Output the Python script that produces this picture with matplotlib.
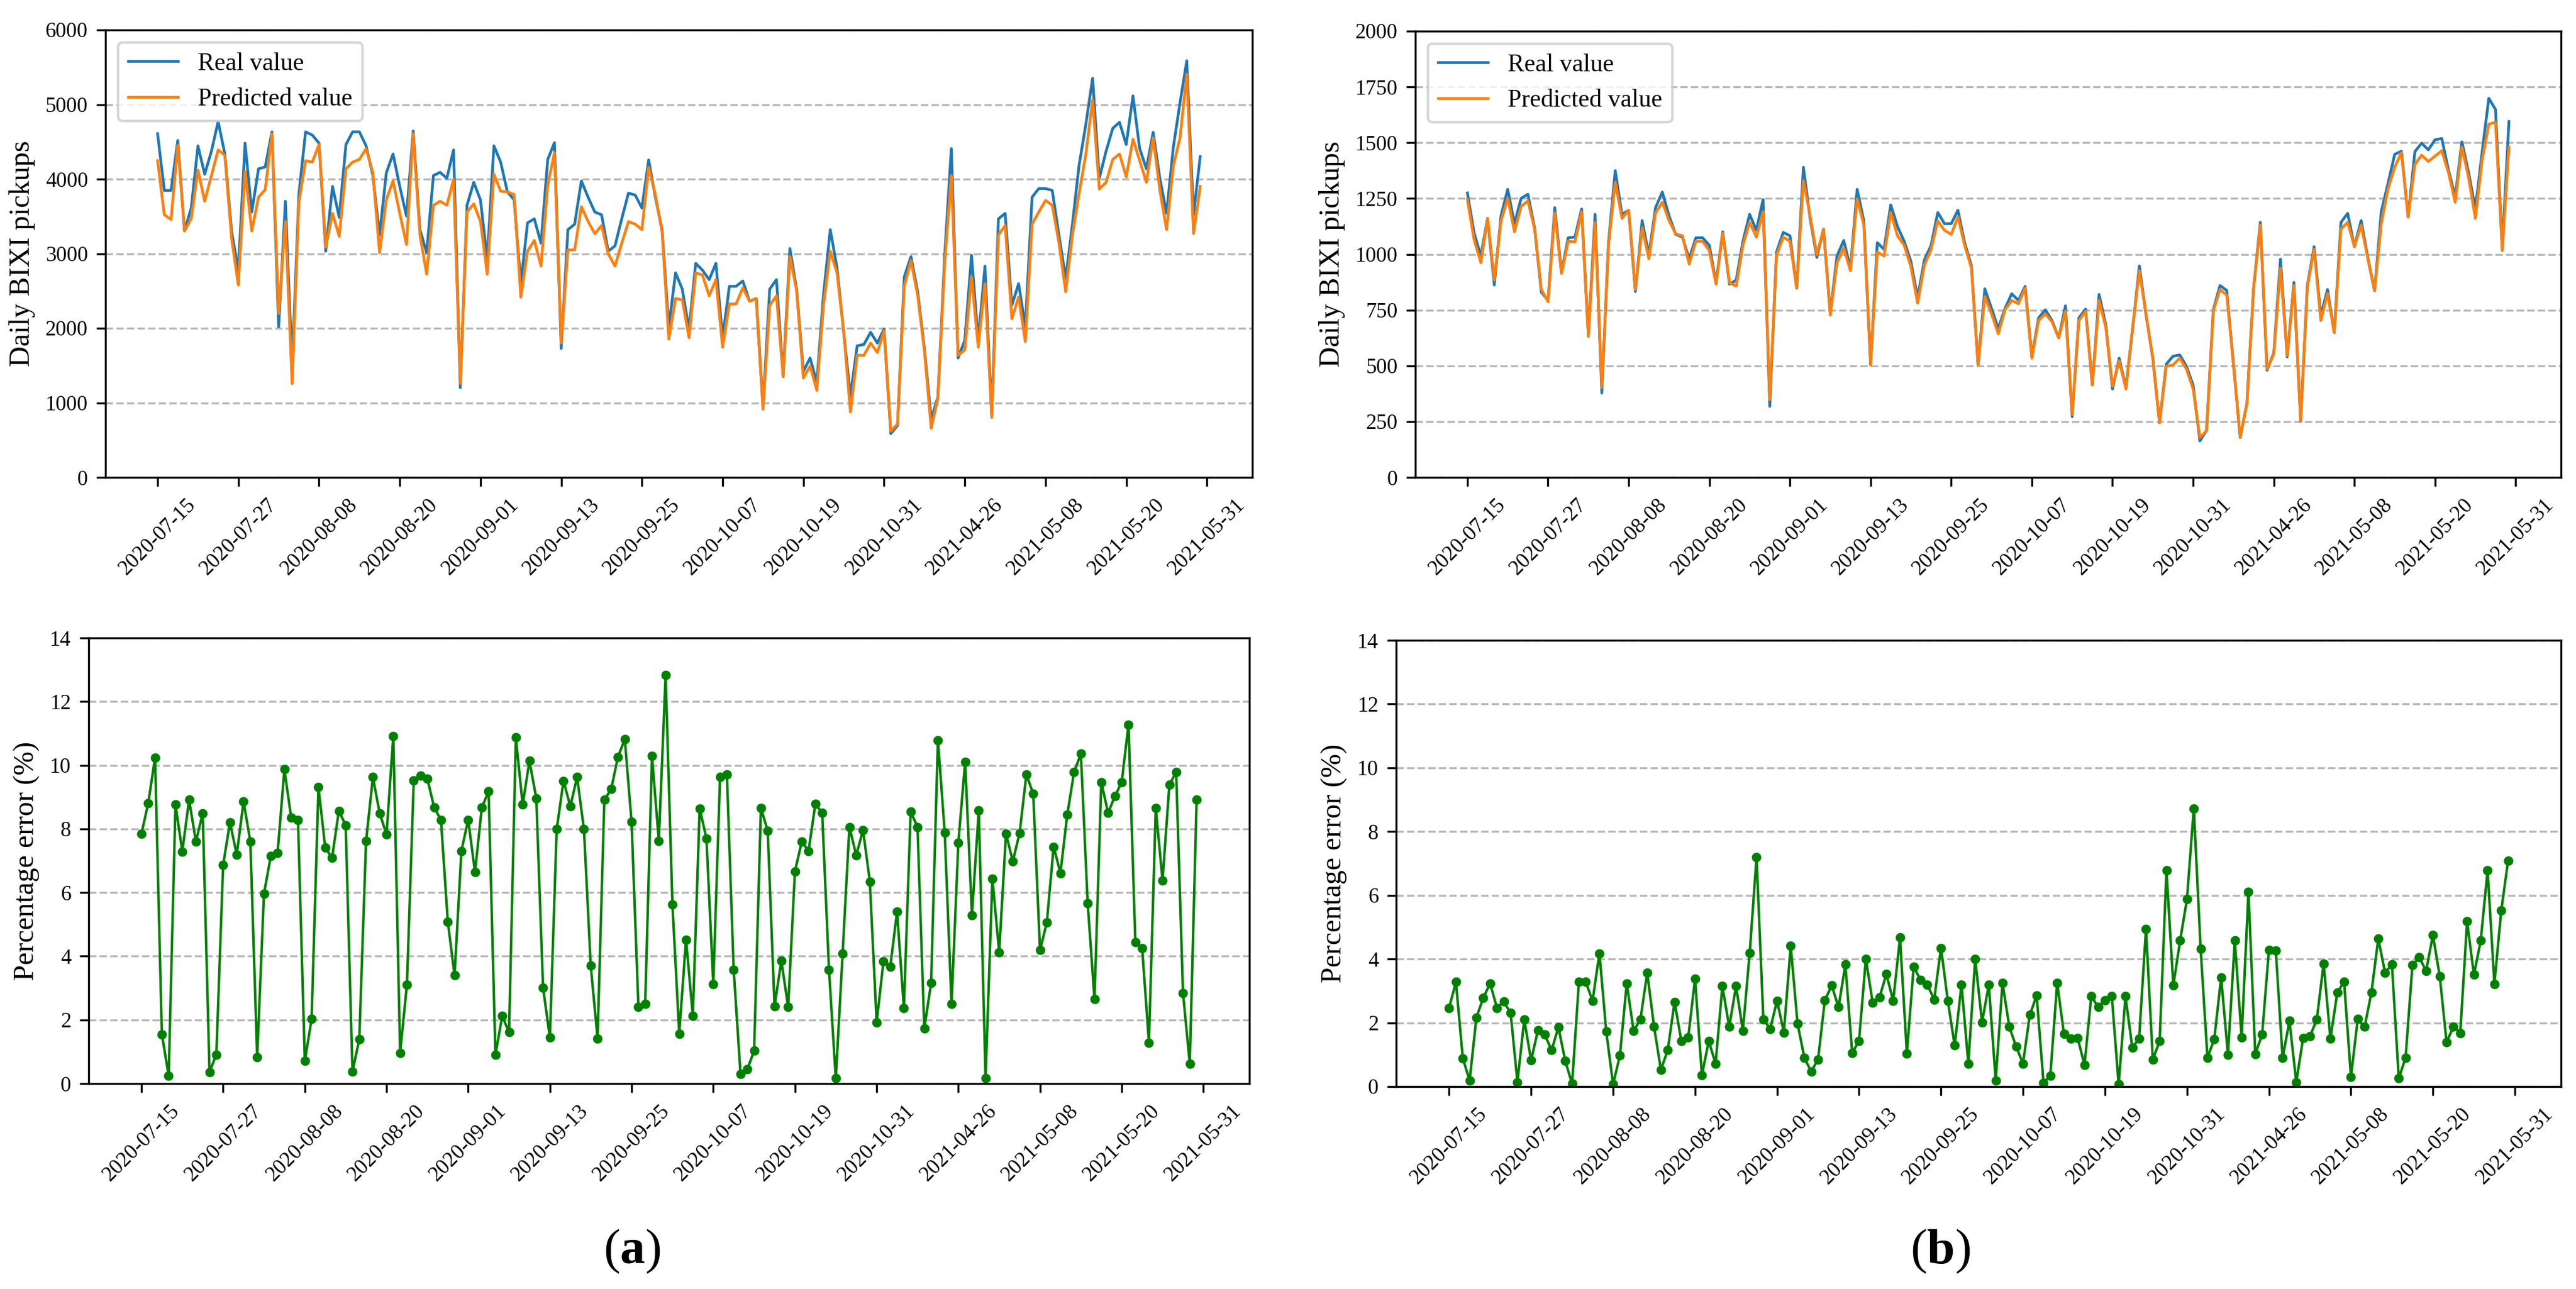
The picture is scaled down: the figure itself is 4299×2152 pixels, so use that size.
import matplotlib
matplotlib.use("Agg")
import matplotlib.pyplot as plt

plt.rcParams['font.family'] = ['Liberation Serif', 'DejaVu Serif']
plt.rcParams['mathtext.fontset'] = 'custom'
plt.rcParams['mathtext.rm'] = 'Liberation Serif'
plt.rcParams['mathtext.bf'] = 'Liberation Serif:bold'

tick_labels = ["2020-07-15", "2020-07-27", "2020-08-08", "2020-08-20", "2020-09-01",
               "2020-09-13", "2020-09-25", "2020-10-07", "2020-10-19", "2020-10-31",
               "2021-04-26", "2021-05-08", "2021-05-20", "2021-05-31"]
tick_pos = [0, 12, 24, 36, 48, 60, 72, 84, 96, 108, 120, 132, 144, 156]

real_a = [4609, 3848, 3848, 4518, 3304, 3612, 4446, 4065, 4373, 4772, 4337, 3300, 2779, 4482, 3558, 4138,
          4163, 4634, 2018, 3703, 1500, 3793, 4634, 4590, 4482, 3033, 3902, 3486, 4464, 4634, 4634, 4446,
          4047, 3250, 4083, 4337, 3902, 3504, 4645, 3322, 3014, 4047, 4091, 4011, 4391, 1203, 3649, 3957,
          3721, 2924, 4446, 4228, 3830, 3721, 2598, 3413, 3467, 3141, 4264, 4489, 1728, 3322, 3395, 3975,
          3757, 3558, 3522, 3033, 3105, 3467, 3812, 3786, 3612, 4257, 3757, 3322, 2018, 2743, 2525, 1982,
          2870, 2779, 2652, 2870, 1873, 2562, 2562, 2634, 2362, 2399, 950, 2525, 2652, 1366, 3069, 2525,
          1420, 1601, 1275, 2453, 3322, 2815, 1946, 1094, 1764, 1783, 1946, 1801, 1989, 587, 696, 2688,
          2960, 2489, 1728, 786, 1076, 2960, 4409, 1601, 1837, 2978, 1837, 2833, 841, 3467, 3540, 2308,
          2598, 2018, 3757, 3873, 3873, 3848, 3250, 2670, 3395, 4192, 4736, 5351, 4011, 4373, 4681, 4761,
          4464, 5116, 4409, 4138, 4627, 4011, 3540, 4428, 5025, 5587, 3522, 4301]

pred_a = [4246, 3522, 3457, 4453, 3304, 3467, 4120, 3703, 4047, 4391, 4319, 3200, 2580, 4101, 3304, 3757,
          3859, 4609, 2199, 3431, 1257, 3685, 4246, 4228, 4464, 3087, 3540, 3232, 4138, 4228, 4264, 4409,
          4083, 3014, 3721, 3975, 3540, 3123, 4609, 3250, 2725, 3649, 3703, 3649, 3993, 1257, 3558, 3667,
          3431, 2725, 4065, 3837, 3830, 3793, 2417, 3033, 3178, 2833, 3920, 4355, 1801, 3051, 3051, 3630,
          3431, 3268, 3377, 2996, 2833, 3141, 3431, 3395, 3322, 4156, 3793, 3286, 1855, 2399, 2380, 1873,
          2743, 2714, 2435, 2652, 1746, 2326, 2326, 2543, 2362, 2399, 913, 2308, 2435, 1348, 2960, 2507,
          1330, 1493, 1167, 2308, 3033, 2743, 1946, 877, 1638, 1638, 1801, 1674, 1964, 623, 714, 2562,
          2906, 2435, 1692, 659, 1058, 2851, 4047, 1638, 1710, 2688, 1746, 2598, 804, 3250, 3377, 2127,
          2417, 1819, 3395, 3558, 3714, 3649, 3141, 2489, 3250, 3812, 4337, 5062, 3866, 3957, 4264, 4337,
          4029, 4536, 4246, 3957, 4554, 3848, 3322, 4174, 4554, 5406, 3268, 3902]

err_a = [7.85, 8.81, 10.23, 1.55, 0.24, 8.76, 7.29, 8.91, 7.60, 8.49, 0.36, 0.91, 6.86, 8.20, 7.19, 8.86,
         7.60, 0.82, 5.96, 7.15, 7.25, 9.87, 8.35, 8.28, 0.71, 2.03, 9.31, 7.41, 7.09, 8.57, 8.11, 0.38,
         1.39, 7.62, 9.63, 8.49, 7.82, 10.92, 0.96, 3.11, 9.52, 9.68, 9.58, 8.67, 8.28, 5.09, 3.40, 7.31,
         8.28, 6.64, 8.67, 9.18, 0.91, 2.12, 1.61, 10.87, 8.76, 10.14, 8.96, 3.01, 1.44, 7.99, 9.51, 8.71,
         9.63, 7.99, 3.71, 1.42, 8.91, 9.25, 10.26, 10.82, 8.23, 2.41, 2.50, 10.29, 7.63, 12.84, 5.62, 1.57,
         4.52, 2.12, 8.64, 7.70, 3.13, 9.63, 9.71, 3.57, 0.31, 0.45, 1.03, 8.65, 7.94, 2.43, 3.86, 2.41,
         6.67, 7.60, 7.31, 8.79, 8.50, 3.57, 0.16, 4.08, 8.06, 7.17, 7.96, 6.35, 1.92, 3.84, 3.67, 5.40,
         2.37, 8.54, 8.06, 1.73, 3.16, 10.79, 7.89, 2.51, 7.56, 10.10, 5.29, 8.59, 0.16, 6.43, 4.13, 7.85,
         6.98, 7.87, 9.71, 9.10, 4.19, 5.06, 7.44, 6.61, 8.45, 9.78, 10.36, 5.67, 2.65, 9.47, 8.50, 9.03,
         9.47, 11.28, 4.44, 4.25, 1.28, 8.65, 6.38, 9.39, 9.78, 2.85, 0.62, 8.91]

real_b = [1275, 1095, 992, 1161, 862, 1173, 1291, 1137, 1251, 1269, 1119, 830, 793, 1209, 920, 1074,
          1077, 1203, 637, 1179, 378, 1052, 1375, 1179, 1197, 833, 1151, 998, 1209, 1279, 1173, 1089,
          1077, 980, 1074, 1074, 1040, 872, 1101, 866, 884, 1058, 1179, 1107, 1245, 318, 1010, 1098,
          1083, 848, 1390, 1161, 986, 1113, 733, 992, 1062, 938, 1291, 1149, 504, 1052, 1022, 1221,
          1125, 1058, 968, 805, 974, 1040, 1187, 1137, 1137, 1197, 1052, 950, 504, 845, 757, 667,
          757, 823, 793, 856, 540, 715, 751, 703, 625, 769, 272, 715, 754, 414, 820, 685,
          396, 534, 402, 667, 948, 727, 534, 245, 507, 543, 549, 498, 414, 163, 211, 751,
          860, 838, 510, 179, 330, 848, 1143, 480, 558, 978, 540, 874, 251, 860, 1034, 727,
          842, 649, 1143, 1183, 1034, 1151, 986, 836, 1191, 1317, 1448, 1462, 1167, 1460, 1498, 1468,
          1513, 1519, 1378, 1257, 1504, 1366, 1203, 1456, 1699, 1649, 1028, 1595]

pred_b = [1245, 1064, 962, 1161, 884, 1149, 1251, 1101, 1215, 1239, 1113, 842, 787, 1185, 914, 1058,
          1055, 1191, 631, 1143, 402, 1040, 1323, 1161, 1197, 842, 1119, 980, 1185, 1233, 1151, 1091,
          1083, 956, 1058, 1058, 1016, 866, 1095, 872, 857, 1040, 1143, 1077, 1191, 348, 995, 1077,
          1058, 848, 1330, 1173, 998, 1113, 727, 962, 1028, 926, 1248, 1131, 504, 1010, 992, 1187,
          1083, 1040, 944, 781, 950, 1022, 1149, 1107, 1089, 1167, 1040, 938, 504, 811, 733, 643,
          751, 793, 778, 848, 534, 703, 733, 697, 625, 745, 281, 703, 745, 414, 793, 673,
          408, 522, 396, 673, 926, 727, 534, 245, 498, 504, 534, 486, 396, 179, 209, 745,
          842, 817, 510, 179, 330, 848, 1131, 486, 552, 938, 546, 860, 251, 854, 1022, 703,
          824, 649, 1113, 1143, 1034, 1131, 980, 836, 1137, 1293, 1390, 1456, 1167, 1402, 1444, 1416,
          1440, 1464, 1366, 1233, 1480, 1342, 1161, 1420, 1583, 1592, 1016, 1480]

err_b = [2.47, 3.28, 0.89, 0.19, 2.17, 2.78, 3.24, 2.47, 2.66, 2.31, 0.14, 2.10, 0.82, 1.76, 1.63, 1.14,
         1.86, 0.80, 0.09, 3.29, 3.28, 2.69, 4.18, 1.73, 0.07, 0.97, 3.24, 1.75, 2.10, 3.57, 1.87, 0.53,
         1.14, 2.65, 1.42, 1.54, 3.39, 0.35, 1.43, 0.72, 3.15, 1.87, 3.15, 1.75, 4.20, 7.20, 2.10, 1.81,
         2.69, 1.70, 4.41, 1.98, 0.90, 0.47, 0.85, 2.71, 3.17, 2.49, 3.83, 1.06, 1.43, 4.01, 2.63, 2.80,
         3.53, 2.69, 4.67, 1.04, 3.76, 3.34, 3.19, 2.73, 4.35, 2.68, 1.29, 3.20, 0.72, 4.01, 2.02, 3.19,
         0.19, 3.25, 1.87, 1.25, 0.72, 2.25, 2.86, 0.12, 0.34, 3.25, 1.65, 1.51, 1.52, 0.68, 2.84, 2.49,
         2.71, 2.84, 0.07, 2.83, 1.22, 1.51, 4.95, 0.85, 1.42, 6.78, 3.17, 4.58, 5.88, 8.72, 4.32, 0.91,
         1.49, 3.42, 1.00, 4.58, 1.54, 6.10, 1.02, 1.63, 4.29, 4.27, 0.90, 2.06, 0.14, 1.52, 1.58, 2.10,
         3.85, 1.50, 2.95, 3.29, 0.30, 2.12, 1.87, 2.95, 4.64, 3.57, 3.83, 0.26, 0.90, 3.81, 4.05, 3.63,
         4.75, 3.46, 1.39, 1.88, 1.68, 5.19, 3.51, 4.58, 6.78, 3.22, 5.52, 7.08]

W, H = 4299, 2152
fig = plt.figure(figsize=(W / 300, H / 300), dpi=300)


def rect(l, r, t, b):
    return [l / W, 1 - b / H, (r - l) / W, (b - t) / H]


TICK_FS = 8.5
LABEL_FS = 11.5


def style(ax, ymax, ystep):
    ax.set_xticks(tick_pos)
    ax.set_xticklabels(tick_labels, rotation=45, fontsize=TICK_FS)
    ax.set_ylim(0, ymax)
    ax.set_yticks(list(range(0, ymax + 1, ystep)))
    ax.tick_params(axis='y', labelsize=TICK_FS)
    ax.grid(axis='y', linestyle='--', color='#b0b0b0', linewidth=0.8, alpha=0.9)
    ax.set_axisbelow(True)


def top_panel(box, real, pred, ymax, ystep):
    ax = fig.add_axes(box)
    x = list(range(len(real)))
    ax.plot(x, real, color='#1f77b4', linewidth=1.1, label='Real value')
    ax.plot(x, pred, color='#ff7f0e', linewidth=1.1, label='Predicted value')
    style(ax, ymax, ystep)
    ax.set_ylabel('Daily BIXI pickups', fontsize=LABEL_FS)
    ax.legend(loc='upper left', fontsize=10, handlelength=2.0)
    return ax


def bottom_panel(box, err):
    ax = fig.add_axes(box)
    x = list(range(len(err)))
    ax.plot(x, err, color='green', linewidth=1.0, marker='o', markersize=2.8)
    style(ax, 14, 2)
    ax.set_ylabel('Percentage error (%)', fontsize=LABEL_FS)
    return ax


top_panel(rect(176, 2090, 50, 797), real_a, pred_a, 6000, 1000)
bottom_panel(rect(148, 2085, 1065, 1809), err_a)
top_panel(rect(2362, 4274, 52, 797), real_b, pred_b, 2000, 250)
bottom_panel(rect(2330, 4274, 1069, 1814), err_b)

fig.text(1055 / W, 1 - 2089 / H, r'($\mathbf{a}$)', fontsize=20, ha='center', va='center')
fig.text(3238 / W, 1 - 2089 / H, r'($\mathbf{b}$)', fontsize=20, ha='center', va='center')

fig.savefig('out.png', dpi=300)
